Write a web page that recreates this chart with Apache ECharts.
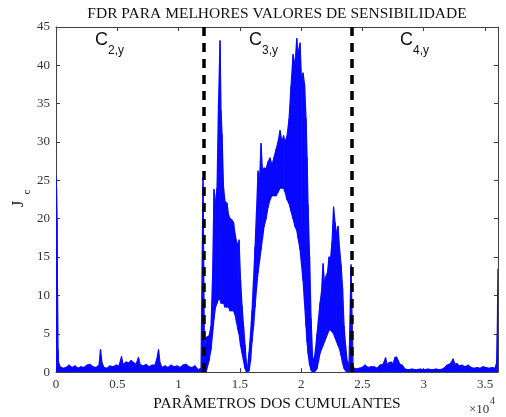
<!DOCTYPE html>
<html><head><meta charset="utf-8">
<script src="https://cdn.jsdelivr.net/npm/echarts@6/dist/echarts.min.js"></script>
<style>html,body{margin:0;padding:0;background:#fff}#c{width:506px;height:417px}</style>
</head><body><div id="c"></div>
<script>
// ---- data (upper / lower envelope of the dense trace) ----
const xTickLabels = ['0', '0.5', '1', '1.5', '2', '2.5', '3', '3.5'];
const yTickLabels = ['0', '5', '10', '15', '20', '25', '30', '35', '40', '45'];
const regionLabels = ['2,y', '3,y', '4,y'];
const dividers = [12040, 24110];

// C2 region (baseline, lower envelope is 0)
const paramsC2 = [0, 41, 82, 122, 163, 204, 326, 571, 816, 1061, 1306, 1550, 1795, 2040, 2285, 2530, 2774, 3019, 3264, 3509, 3631,
  3754, 3917, 4162, 4406, 4651, 4896, 5141, 5345, 5467, 5712, 5957, 6120, 6365, 6528, 6732, 6854, 7099, 7344, 7589, 7834,
  8078, 8242, 8364, 8486, 8650, 8894, 9139, 9384, 9629, 9874, 10118, 10363, 10608, 10853, 11098, 11342, 11587, 11832, 11995, 12118];
const upperC2 = [25.5, 24, 20, 10, 3, 1.3, 0.7, 0.5, 0.6, 0.9, 0.6, 0.8, 0.5, 0.7, 0.6, 0.9, 1.0, 0.7, 0.6, 0.9, 2.9,
  1.2, 0.6, 0.5, 0.8, 0.7, 0.9, 0.8, 2.0, 1.0, 1.3, 1.2, 1.5, 1.2, 1.0, 1.9, 1.0, 0.8, 1.0, 0.7, 0.9,
  0.9, 1.8, 2.9, 1.2, 0.6, 0.8, 0.6, 0.9, 0.7, 0.8, 0.6, 0.9, 1.0, 0.7, 0.6, 0.8, 0.3, 0.5, 25.3, 1.0];

// C3 region
const paramsC3 = [12240, 12485, 12648, 12770, 12893, 13015, 13138, 13260, 13382, 13464, 13546, 13668, 13790, 13954, 14076, 14198,
  14362, 14484, 14606, 14729, 14851, 14933, 15055, 15178, 15300, 15422, 15545, 15626, 15749, 15871, 15994, 16116,
  16238, 16361, 16483, 16606, 16728, 16850, 16973, 17136, 17299, 17462, 17626, 17789, 17952, 18115, 18278, 18442,
  18564, 18686, 18850, 19013, 19176, 19339, 19502, 19641, 19747, 19910, 20033, 20155, 20278, 20400, 20482, 20563,
  20686, 20808, 20930, 21053, 21175, 21298, 21420, 21542, 21665, 21787, 21910, 22032, 22154, 22277, 22399, 22522,
  22644, 22766, 22889, 23011, 23134, 23256, 23378, 23501, 23623, 23746, 23909, 24072];
const upperC3 = [4.5, 4.7, 6, 12, 23.8, 22, 24, 35, 43.2, 34, 31, 24, 22.2, 22, 20.5, 20,
  19.8, 19.5, 18, 17, 16.5, 17.2, 12, 8.6, 6, 3.5, 1, 0.5, 2.5, 5, 8, 12,
  16.3, 21, 26.2, 25, 29.8, 26, 26.6, 26.5, 27.4, 27.9, 27, 28, 29, 30, 31.5, 30,
  30.8, 30, 30.8, 33, 37.3, 41.4, 40, 43.5, 41.5, 42.9, 38, 39, 37.5, 33, 28, 21.8,
  15, 7, 2, 1.5, 3, 5, 7, 9, 10.5, 14.1, 11.5, 12.5, 13, 15, 14.8, 17,
  21.5, 19.5, 18, 19, 16, 14, 11, 6, 3.5, 1.5, 1.0, 14];
const lowerC3 = [0, 1.5, 3, 5, 7, 8.5, 9, 9.5, 9.5, 9, 9, 9, 8.5, 8.5, 8.5, 8,
  8, 8, 7.5, 6.5, 5.5, 5, 3.5, 2.5, 1.5, 0.5, 0, 0, 0.2, 1.5, 4, 6,
  8.5, 11, 13, 14.5, 16, 17.5, 19, 20, 21.5, 22.5, 23, 23, 23, 23.5, 24, 24,
  24, 23.5, 22.5, 22, 21, 20, 19, 18.5, 17.5, 16, 14, 12, 9, 6, 4, 2.5,
  1, 0.3, 0, 0, 0.2, 0.5, 1.5, 2.5, 3, 3.5, 4, 4.5, 5, 5.5, 5.5, 5.3,
  5, 4.5, 4, 3.5, 3, 2.2, 1.2, 0.5, 0.2, 0, 0, 0];

// C4 region (baseline, lower envelope is 0)
const paramsC4 = [24235, 24480, 24725, 24970, 25214, 25459, 25704, 25949, 26194, 26438, 26683, 26887, 27010, 27173, 27336, 27499,
  27662, 27785, 27907, 28070, 28234, 28478, 28723, 29050, 29376, 29702, 30029, 30355, 30682, 31008, 31334, 31661,
  31906, 32069, 32232, 32395, 32558, 32722, 32885, 33130, 33374, 33619, 33864, 34109, 34354, 34598, 34843, 35088,
  35333, 35578, 35822, 35945, 36002, 36051];
const upperC4 = [0.6, 0.4, 0.5, 0.6, 0.9, 0.6, 0.7, 0.7, 0.5, 0.9, 1.0, 1.85, 1.0, 1.2, 1.3, 1.1,
  1.9, 1.95, 1.5, 1.0, 0.9, 0.4, 0.3, 0.4, 0.3, 0.4, 0.3, 0.4, 0.3, 0.4, 0.3, 0.5,
  0.9, 1.0, 1.2, 1.7, 1.0, 1.1, 0.8, 0.9, 0.7, 0.9, 0.6, 0.5, 0.6, 0.5, 0.7, 0.6,
  0.5, 0.6, 0.5, 1.2, 5, 13.4];

// ---- assemble: one quad per pair of neighbouring envelope samples ----
const params = paramsC2.concat(paramsC3, paramsC4);
const upper = upperC2.concat(upperC3, upperC4);
const lower = paramsC2.map(() => 0).concat(lowerC3, paramsC4.map(() => 0));
const segData = [];
for (let i = 0; i < params.length - 1; i++) {
  segData.push([params[i], upper[i], lower[i], params[i + 1], upper[i + 1], lower[i + 1]]);
}

const serif = 'Liberation Serif, Times New Roman, serif';
const sans = 'Liberation Sans, Arial, sans-serif';
const axisCol = '#404040';
const blue = '#0000ff';

const chart = echarts.init(document.getElementById('c'), null, {renderer: 'canvas'});
const xAxisBase = {
  type: 'value', min: 0, max: 36060, interval: 5000,
  axisLine: {show: true, onZero: false, lineStyle: {color: axisCol, width: 1}},
  axisTick: {show: true, inside: true, length: 4, lineStyle: {color: axisCol}},
  splitLine: {show: false}
};
const yAxisBase = {
  type: 'value', min: 0, max: 45, interval: 5,
  axisLine: {show: true, onZero: false, lineStyle: {color: axisCol, width: 1}},
  axisTick: {show: true, inside: true, length: 4, lineStyle: {color: axisCol}},
  splitLine: {show: false}
};

function renderSeg(p, api) {
  const a = api.coord([api.value(0), api.value(1)]);
  const b = api.coord([api.value(3), api.value(4)]);
  const c = api.coord([api.value(3), api.value(5)]);
  const d = api.coord([api.value(0), api.value(2)]);
  return {
    type: 'polygon',
    shape: {points: [a, b, c, d]},
    style: {fill: blue, stroke: '#0a0aff', lineWidth: 1.2, lineJoin: 'round'}
  };
}

chart.setOption({
  animation: false,
  backgroundColor: '#fff',
  grid: {left: 56, right: 8, top: 27, bottom: 40, containLabel: false},
  xAxis: [
    Object.assign({}, xAxisBase, {
      position: 'bottom',
      axisLabel: {
        color: '#333', fontFamily: serif, fontSize: 13, margin: 6,
        formatter: v => (v % 5000 === 0 ? xTickLabels[v / 5000] : '')
      },
      name: 'PARÂMETROS DOS CUMULANTES', nameLocation: 'middle', nameGap: 22,
      nameTextStyle: {color: '#111', fontFamily: serif, fontSize: 15.5}
    }),
    Object.assign({}, xAxisBase, {position: 'top', axisLabel: {show: false}})
  ],
  yAxis: [
    Object.assign({}, yAxisBase, {
      position: 'left',
      axisLabel: {
        color: '#333', fontFamily: serif, fontSize: 13, margin: 6,
        formatter: v => yTickLabels[Math.round(v / 5)]
      }
    }),
    Object.assign({}, yAxisBase, {position: 'right', axisLabel: {show: false}})
  ],
  series: [
    {
      type: 'custom', name: 'Jc', data: segData, renderItem: renderSeg, clip: true,
      encode: {x: [0, 3], y: [1, 2, 4, 5]}, z: 2
    },
    {
      type: 'line', name: 'divisores', data: [], z: 5,
      markLine: {
        silent: true, symbol: ['none', 'none'], label: {show: false},
        lineStyle: {color: '#000', width: 3.5, type: [9, 7]},
        data: dividers.map(d => [{coord: [d, 45]}, {coord: [d, 0]}])
      }
    }
  ],
  graphic: [
    {type: 'text', x: 277, y: 14, style: {text: 'FDR PARA MELHORES VALORES DE SENSIBILIDADE', font: '15.5px ' + serif, fill: '#111', align: 'center', verticalAlign: 'middle'}},
    {type: 'text', x: 19, y: 204, rotation: Math.PI / 2, style: {text: 'J', font: '16px ' + serif, fill: '#111', align: 'center', verticalAlign: 'middle'}},
    {type: 'text', x: 27, y: 192, rotation: Math.PI / 2, style: {text: 'c', font: '11px ' + serif, fill: '#111', align: 'center', verticalAlign: 'middle'}},
    {type: 'text', x: 469, y: 410, style: {text: '×10', font: '13px ' + serif, fill: '#333', align: 'left', verticalAlign: 'middle'}},
    {type: 'text', x: 490, y: 401, style: {text: '4', font: '10px ' + serif, fill: '#333', align: 'left', verticalAlign: 'middle'}},
    {type: 'text', x: 95, y: 40, style: {text: 'C', font: '18px ' + sans, fill: '#111', align: 'left', verticalAlign: 'middle'}},
    {type: 'text', x: 108, y: 51, style: {text: regionLabels[0], font: '12px ' + sans, fill: '#111', align: 'left', verticalAlign: 'middle'}},
    {type: 'text', x: 249, y: 40, style: {text: 'C', font: '18px ' + sans, fill: '#111', align: 'left', verticalAlign: 'middle'}},
    {type: 'text', x: 262, y: 51, style: {text: regionLabels[1], font: '12px ' + sans, fill: '#111', align: 'left', verticalAlign: 'middle'}},
    {type: 'text', x: 400, y: 40, style: {text: 'C', font: '18px ' + sans, fill: '#111', align: 'left', verticalAlign: 'middle'}},
    {type: 'text', x: 413, y: 51, style: {text: regionLabels[2], font: '12px ' + sans, fill: '#111', align: 'left', verticalAlign: 'middle'}}
  ]
});
</script></body></html>
